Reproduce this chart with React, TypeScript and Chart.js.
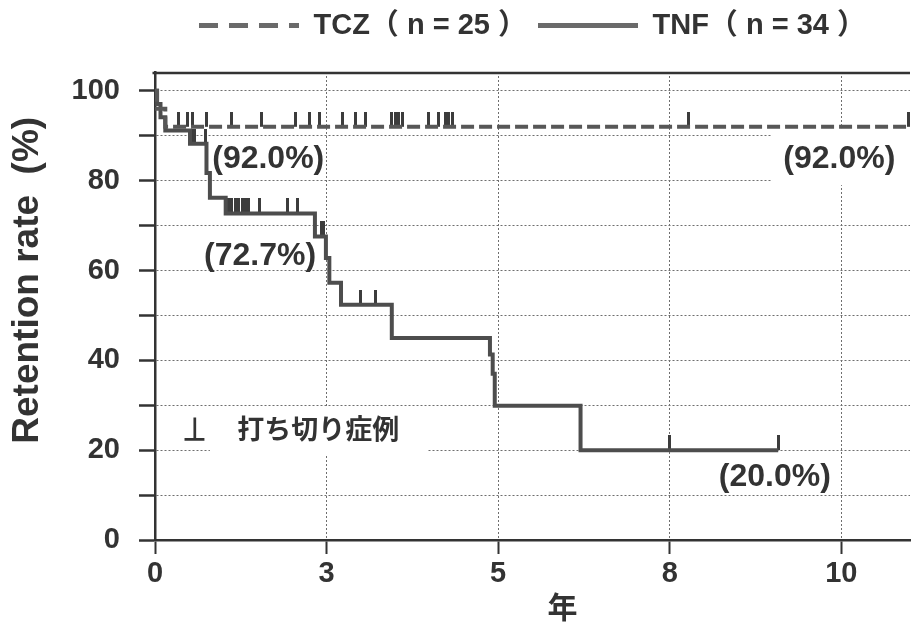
import React, { useEffect, useRef } from 'react';
import { Chart, registerables } from 'chart.js';

Chart.register(...registerables);

// ---------------- data ----------------
const seriesNames = ['TCZ（ n = 25 ）', 'TNF（ n = 34 ）'];

// Kaplan-Meier steps (time in years, retention %)
const tczTimes = [0, 0.03, 0.15, 11.0];
const tczRetention = [100, 96, 92, 92];
const tczCensored = [0.34, 0.48, 0.55, 0.75, 1.11, 1.55, 2.05, 2.25, 2.39, 2.73, 2.92, 3.07, 3.45, 3.5, 3.55, 3.6, 3.99, 4.13, 4.23, 4.28, 4.33, 7.78, 10.98];

const tnfTimes = [0, 0.03, 0.08, 0.15, 0.51, 0.75, 0.8, 1.03, 2.33, 2.49, 2.54, 2.71, 3.45, 4.88, 4.92, 4.95, 6.2, 9.08];
const tnfRetention = [100, 97.1, 94.1, 91.2, 88.2, 81.7, 76.2, 72.7, 67.6, 62.8, 57.3, 52.4, 45.0, 41.3, 37.0, 29.9, 20.0, 20.0];
const tnfCensored = [0.55, 0.58, 0.74, 1.07, 1.12, 1.17, 1.22, 1.27, 1.32, 1.36, 1.52, 1.93, 2.08, 2.42, 2.46, 3.0, 3.21, 7.49, 9.08];

const xTickValues = [0, 2.5, 5, 7.5, 10];
const yTickValues = [0, 10, 20, 30, 40, 50, 60, 70, 80, 90, 100];
const percentLabels = ['(92.0%)', '(92.0%)', '(72.7%)', '(20.0%)'];
const censorLegendText = '打ち切り症例';
const xTitle = '\u3000\u3000年';
const yTitle = '     Retention rate  (%)';

// ---------------- helpers ----------------
const LATIN = '"Liberation Sans", Arial, "Noto Sans CJK JP", sans-serif';
const CJK = '"Noto Sans CJK JP", "Noto Sans CJK SC", sans-serif';
const INK = '#333333';
const GRID = '#6e6e6e';

function valueAt(times: number[], values: number[], t: number) {
  let v = values[0];
  for (let i = 0; i < times.length; i++) if (times[i] <= t) v = values[i];
  return v;
}

function makeCensorMark(color: string) {
  const c = document.createElement('canvas');
  c.width = 3;
  c.height = 30;
  const g = c.getContext('2d')!;
  g.fillStyle = color;
  g.fillRect(0, 0, 3, 15);
  return c;
}

const legendHeightPlugin = {
  id: 'legendHeight',
  beforeInit(chart: any) {
    const lg = chart.legend;
    if (lg) {
      const orig = lg.fit.bind(lg);
      lg.fit = function () {
        orig();
        this.height = 72;
      };
    }
  },
};

const annotationPlugin = {
  id: 'kmAnnotations',
  beforeDatasetsDraw(chart: any) {
    const { ctx, chartArea, scales } = chart;
    const x = scales.x;
    const y = scales.y;
    ctx.save();
    // top frame line
    ctx.strokeStyle = INK;
    ctx.lineWidth = 2.5;
    ctx.beginPath();
    ctx.moveTo(chartArea.left - 2.5, chartArea.top + 1);
    ctx.lineTo(chartArea.right, chartArea.top + 1);
    ctx.stroke();
    // white boxes behind labels
    ctx.fillStyle = '#ffffff';
    const rx1 = x.getPixelForValue(8.99);
    ctx.fillRect(rx1, y.getPixelForValue(91.7), chartArea.right - rx1, y.getPixelForValue(79.0) - y.getPixelForValue(91.7));
    const bx1 = x.getPixelForValue(0.8);
    const bx2 = x.getPixelForValue(3.97);
    ctx.fillRect(bx1, y.getPixelForValue(29.8), bx2 - bx1, y.getPixelForValue(19.1) - y.getPixelForValue(29.8));
    ctx.restore();
  },
  afterDatasetsDraw(chart: any) {
    const { ctx, scales } = chart;
    const x = scales.x;
    const y = scales.y;
    ctx.save();
    ctx.fillStyle = INK;
    ctx.textAlign = 'center';
    ctx.textBaseline = 'middle';
    ctx.font = `bold 32px ${LATIN}`;
    const pos = [
      [1.65, 84.9],
      [9.97, 84.7],
      [1.53, 63.2],
      [9.03, 14.0],
    ];
    percentLabels.forEach((t, i) => {
      ctx.fillText(t, x.getPixelForValue(pos[i][0]), y.getPixelForValue(pos[i][1]));
    });
    // censor legend symbol
    ctx.strokeStyle = INK;
    ctx.lineWidth = 2.7;
    const sx = x.getPixelForValue(0.58);
    const sTop = y.getPixelForValue(27.3);
    const sBot = y.getPixelForValue(22.4);
    ctx.beginPath();
    ctx.moveTo(sx, sTop);
    ctx.lineTo(sx, sBot);
    ctx.moveTo(x.getPixelForValue(0.43), sBot);
    ctx.lineTo(x.getPixelForValue(0.72), sBot);
    ctx.stroke();
    ctx.textAlign = 'left';
    ctx.font = `bold 27px ${CJK}`;
    ctx.fillText(censorLegendText, x.getPixelForValue(1.2), y.getPixelForValue(24.7));
    ctx.restore();
  },
};

export default function App() {
  const ref = useRef<HTMLCanvasElement>(null);

  useEffect(() => {
    document.body.style.margin = '0';
    const canvas = ref.current;
    if (!canvas) return;

    const censorMark = makeCensorMark('#3c3c3c');
    const tczLine = tczTimes.map((t, i) => ({ x: t, y: tczRetention[i] }));
    const tnfLine = tnfTimes.map((t, i) => ({ x: t, y: tnfRetention[i] }));
    const tczMarks = tczCensored.map((t) => ({ x: t, y: valueAt(tczTimes, tczRetention, t) }));
    const tnfMarks = tnfCensored.map((t) => ({ x: t, y: valueAt(tnfTimes, tnfRetention, t) }));

    const chart = new Chart(canvas, {
      type: 'line',
      data: {
        datasets: [
          {
            label: seriesNames[0],
            data: tczLine,
            stepped: true,
            borderColor: '#575757',
            backgroundColor: '#575757',
            borderWidth: 4,
            borderDash: [13, 5],
            pointRadius: 0,
            fill: false,
          },
          {
            label: seriesNames[1],
            data: tnfLine,
            stepped: true,
            borderColor: '#4d4d4d',
            backgroundColor: '#4d4d4d',
            borderWidth: 4,
            pointRadius: 0,
            fill: false,
          },
          {
            label: 'tcz-censored',
            data: tczMarks,
            showLine: false,
            pointStyle: censorMark as any,
            pointRadius: 3,
          },
          {
            label: 'tnf-censored',
            data: tnfMarks,
            showLine: false,
            pointStyle: censorMark as any,
            pointRadius: 3,
          },
        ],
      },
      options: {
        responsive: false,
        devicePixelRatio: 1,
        animation: false,
        layout: { padding: 0 },
        plugins: {
          tooltip: { enabled: false },
          legend: {
            display: true,
            position: 'top',
            fullSize: false,
            labels: {
              usePointStyle: true,
              pointStyle: 'line',
              pointStyleWidth: 100,
              padding: 11,
              color: INK,
              font: { family: LATIN, size: 29, weight: 'bold' },
              generateLabels: (ch: any) => {
                const items = (Chart.defaults.plugins.legend.labels as any).generateLabels(ch);
                return items
                  .filter((it: any) => it.datasetIndex < 2)
                  .map((it: any) => ({
                    ...it,
                    pointStyle: 'line',
                    lineWidth: 5,
                    strokeStyle: '#6a6a6a',
                    lineDash: it.datasetIndex === 0 ? [19, 11] : [],
                  }));
              },
            },
          },
        },
        scales: {
          x: {
            type: 'linear',
            min: 0,
            max: 11.0,
            afterBuildTicks: (s: any) => {
              s.ticks = xTickValues.map((v) => ({ value: v }));
            },
            afterFit: (s: any) => {
              s.height = 85;
            },
            ticks: {
              autoSkip: false,
              maxRotation: 0,
              padding: 3,
              color: INK,
              font: { family: LATIN, size: 29, weight: 'bold' },
              callback: (v: any) => String(Math.round(Number(v))),
            },
            grid: {
              color: GRID,
              lineWidth: 1,
              tickLength: 14,
              tickColor: INK,
              tickWidth: 2,
            },
            border: { color: INK, width: 2.5, dash: [2, 2] },
            title: {
              display: true,
              text: xTitle,
              color: INK,
              font: { family: CJK, size: 30, weight: 'bold' },
              padding: { top: 0, bottom: 0 },
            },
          },
          y: {
            type: 'linear',
            min: 0,
            max: 104.2,
            afterBuildTicks: (s: any) => {
              s.ticks = yTickValues.map((v) => ({ value: v }));
            },
            afterFit: (s: any) => {
              s.width = 155;
            },
            ticks: {
              autoSkip: false,
              padding: 19,
              color: INK,
              font: { family: LATIN, size: 29, weight: 'bold' },
              callback: (v: any) => (Number(v) % 20 === 0 ? String(v) : ''),
            },
            grid: {
              color: GRID,
              lineWidth: 1,
              tickLength: 16,
              tickColor: INK,
              tickWidth: 2.5,
            },
            border: { color: INK, width: 2.5, dash: [2, 2] },
            title: {
              display: true,
              text: yTitle,
              color: INK,
              font: { family: LATIN, size: 37, weight: 'bold' },
              padding: { top: 6, bottom: 0 },
            },
          },
        },
      },
      plugins: [legendHeightPlugin, annotationPlugin],
    } as any);

    return () => chart.destroy();
  }, []);

  return (
    <div style={{ position: 'absolute', left: 0, top: 0, width: 915, height: 625, background: '#ffffff' }}>
      <canvas ref={ref} width={915} height={625} style={{ display: 'block', width: 915, height: 625 }} />
    </div>
  );
}
